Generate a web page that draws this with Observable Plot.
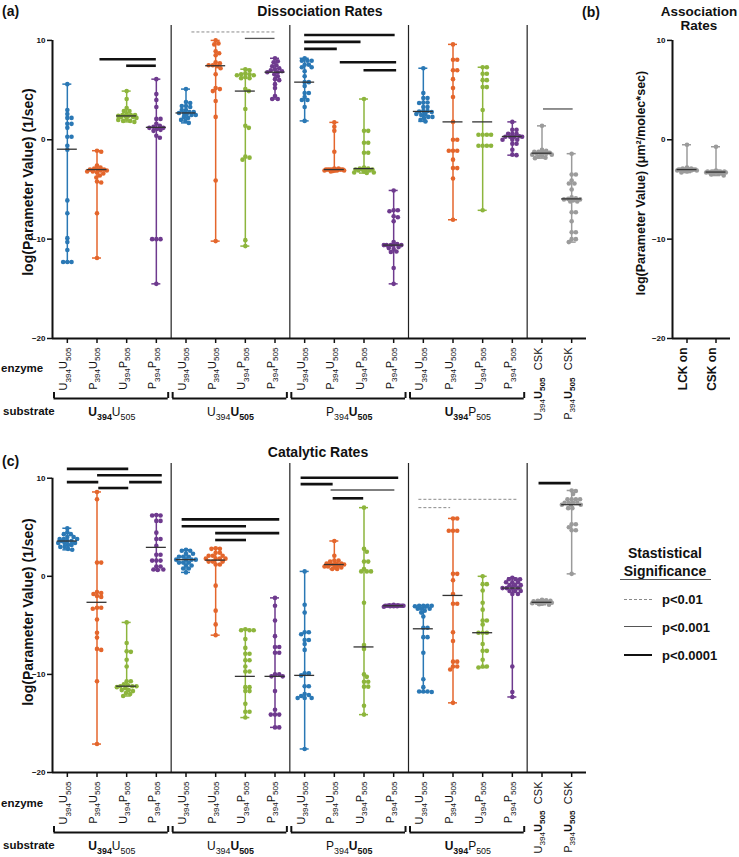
<!DOCTYPE html>
<html><head><meta charset="utf-8">
<script src="https://cdn.jsdelivr.net/npm/d3@7"></script>
<script src="https://cdn.jsdelivr.net/npm/@observablehq/plot@0.6"></script>
<style>
html,body{margin:0;padding:0;background:#fff;}
#fig{position:relative;width:739px;height:857px;overflow:hidden;font-family:"Liberation Sans",Arial,sans-serif;color:#111;background:#fff;}
#fig svg{position:absolute;overflow:visible;}
.t{position:absolute;white-space:nowrap;line-height:1;font-weight:bold;}
</style></head><body><div id="fig"></div><script>
// ---------------- data ----------------
const blue = "#2a78b5", orange = "#e4662c", green = "#8db53c", purple = "#6e3a8e", grey = "#9b9b9b";
const categoryColors = [blue, orange, green, purple, blue, orange, green, purple,
  blue, orange, green, purple, blue, orange, green, purple, grey, grey];
const enzymeLabels = ["U_394_U_505_", "P_394_U_505_", "U_394_P_505_", "P_394_P_505_",
  "U_394_U_505_", "P_394_U_505_", "U_394_P_505_", "P_394_P_505_",
  "U_394_U_505_", "P_394_U_505_", "U_394_P_505_", "P_394_P_505_",
  "U_394_U_505_", "P_394_U_505_", "U_394_P_505_", "P_394_P_505_", "CSK", "CSK"];
const substrateLabels = ["*U_394_*U_505_", "U_394_*U_505_*", "P_394_*U_505_*", "*U_394_*P_505_"];
const groupStart = [0, 4, 8, 12];
const groupEnd = [3, 7, 11, 15];
const cskSubstrateLabels = ["U_394_*U_505_*", "P_394_*U_505_*"];
const cskColumns = [16, 17];
const separators = [3.5, 7.5, 11.5, 15.5];
const yTicks = [10, 0, -10, -20];
const assocLabels = ["LCK on", "CSK on"];

const dissocValues = [
  [5.6, 3.0, 2.6, 2.2, 2.2, 1.6, 1.6, 1.2, 0.3, 0.3, -0.6, -1.0, -6.1, -7.4, -9.9, -10.3, -11.1, -12.3, -12.3, -12.3],
  [-1.1, -1.2, -2.6, -2.8, -2.9, -3.0, -3.0, -3.0, -3.1, -3.1, -3.2, -3.2, -3.3, -3.4, -3.6, -3.8, -4.2, -4.3, -7.4, -11.9],
  [4.9, 4.1, 3.2, 2.9, 2.9, 2.6, 2.5, 2.5, 2.5, 2.4, 2.4, 2.4, 2.3, 2.3, 2.2, 2.1, 2.0, 1.9, 1.9, 1.8],
  [6.1, 4.6, 4.0, 3.3, 2.1, 2.1, 1.6, 1.4, 1.3, 1.2, 1.2, 1.1, 1.0, 0.9, 0.4, 0.2, -10.0, -10.0, -10.0, -14.5],
  [5.1, 3.8, 3.7, 3.4, 3.4, 3.3, 3.0, 3.0, 2.8, 2.8, 2.7, 2.7, 2.6, 2.5, 2.5, 2.3, 2.2, 2.0, 1.9, 1.7],
  [10.0, 9.7, 9.6, 8.9, 8.7, 8.5, 7.8, 7.7, 7.5, 7.5, 7.4, 7.2, 6.6, 5.2, 5.1, 4.9, 3.9, 2.3, -4.1, -10.2],
  [7.1, 7.0, 6.7, 6.6, 6.6, 6.5, 6.5, 6.3, 6.2, 6.2, 5.1, 4.9, 3.1, 1.4, 1.2, -1.7, -1.8, -2.0, -10.1, -10.7],
  [8.2, 7.9, 7.8, 7.5, 7.4, 7.2, 7.1, 7.0, 6.9, 6.8, 6.8, 6.6, 6.4, 6.1, 6.0, 5.6, 5.2, 4.4, 4.1, 4.1],
  [8.2, 7.95, 7.95, 7.95, 7.55, 7.55, 7.3, 7.3, 6.9, 6.4, 5.8, 5.8, 5.4, 4.7, 4.7, 4.3, 4.0, 4.0, 3.3, 1.9],
  [1.75, 1.3, 0.9, -1.2, -2.9, -2.9, -3.0, -3.0, -3.0, -3.0, -3.0, -3.0, -3.0, -3.05, -3.05, -3.1, -3.1, -3.1, -3.15, -3.2],
  [4.1, 0.9, 0.9, -0.3, -0.3, -1.3, -1.3, -2.8, -2.9, -2.9, -3.0, -3.0, -3.0, -3.0, -3.1, -3.1, -3.2, -3.3, -3.3, -3.35],
  [-5.1, -7.1, -7.1, -7.2, -7.7, -7.8, -8.2, -10.3, -10.5, -10.6, -10.6, -10.6, -10.6, -10.6, -10.8, -10.9, -11.0, -11.25, -11.3, -12.9, -14.5],
  [7.2, 4.7, 4.2, 4.2, 3.75, 3.75, 3.7, 3.3, 3.3, 2.9, 2.9, 2.85, 2.8, 2.6, 2.6, 2.5, 2.3, 2.3, 2.2, 2.0, 1.85],
  [9.6, 8.05, 8.05, 7.0, 7.0, 6.1, 5.2, 4.3, 1.8, 0.0, 0.0, -1.1, -1.1, -1.1, -2.0, -2.85, -2.85, -3.9, -8.05],
  [7.3, 7.3, 6.65, 6.65, 6.0, 6.0, 5.3, 5.3, 3.0, 0.5, 0.5, 0.5, 0.5, -0.6, -0.6, -0.6, -0.6, -7.1],
  [1.8, 1.0, 1.0, 0.6, 0.6, 0.6, 0.35, 0.3, 0.3, 0.3, 0.3, 0.0, 0.0, 0.0, -0.4, -0.4, -1.0, -1.5, -1.55],
  [1.4, -1.0, -1.1, -1.2, -1.2, -1.3, -1.3, -1.35, -1.4, -1.4, -1.5, -1.5, -1.6, -1.7, -1.8, -1.85],
  [-1.4, -3.5, -3.5, -4.1, -4.4, -4.4, -5.0, -5.8, -5.9, -5.95, -6.0, -6.0, -6.1, -6.2, -6.2, -7.3, -7.3, -8.2, -9.3, -9.3, -10.0, -10.0, -10.3]
];
const dissocMedians = [-0.95, -3.0, 2.4, 1.25, 2.7, 7.45, 4.9, 6.8, 5.8, -3.0, -2.9, -10.6, 2.85, 1.8, 1.8, 0.33, -1.35, -5.95];
const dissocSig = [
  {x1: 1.1, x2: 3.0, y: 8.1, p: 3}, {x1: 2.0, x2: 3.0, y: 7.45, p: 3},
  {x1: 4.2, x2: 7.0, y: 10.85, p: 1}, {x1: 6.0, x2: 7.0, y: 10.2, p: 2},
  {x1: 8.0, x2: 11.05, y: 10.55, p: 3}, {x1: 8.0, x2: 9.9, y: 9.85, p: 3},
  {x1: 8.0, x2: 9.1, y: 9.15, p: 3}, {x1: 9.2, x2: 11.1, y: 7.8, p: 3},
  {x1: 10.0, x2: 11.1, y: 7.0, p: 3}, {x1: 16.05, x2: 17.05, y: 3.1, p: 2}
];

const assocValues = [
  [-0.5, -2.8, -2.9, -2.9, -3.0, -3.0, -3.0, -3.0, -3.0, -3.0, -3.0, -3.0, -3.1, -3.1, -3.1, -3.1, -3.2, -3.3],
  [-0.7, -3.1, -3.2, -3.2, -3.2, -3.2, -3.2, -3.2, -3.3, -3.3, -3.3, -3.3, -3.3, -3.4, -3.4, -3.4, -3.5, -3.6]
];
const assocMedians = [-3.0, -3.25];

const catalyticValues = [
  [4.9, 4.5, 4.3, 4.3, 4.0, 4.0, 3.8, 3.8, 3.8, 3.6, 3.6, 3.6, 3.4, 3.4, 3.4, 3.2, 3.2, 3.0, 3.0, 2.8, 2.7],
  [8.6, 7.85, 1.4, 1.4, -1.6, -1.7, -1.8, -2.0, -2.1, -3.2, -3.2, -3.3, -4.4, -5.75, -6.25, -7.4, -7.5, -10.7, -17.1],
  [-4.7, -6.8, -7.65, -7.7, -8.5, -9.2, -10.7, -10.7, -11.0, -11.1, -11.2, -11.2, -11.2, -11.3, -11.4, -11.6, -11.6, -11.7, -11.9, -12.0, -12.2],
  [6.25, 6.2, 6.2, 5.65, 5.65, 4.45, 3.8, 3.8, 3.1, 2.2, 2.2, 1.6, 1.6, 1.6, 1.0, 1.0, 0.7, 0.7, 0.65],
  [2.7, 2.6, 2.6, 2.3, 2.3, 2.0, 2.0, 2.0, 1.7, 1.7, 1.7, 1.7, 1.4, 1.4, 1.4, 1.1, 1.1, 0.8, 0.8, 0.4],
  [2.85, 2.8, 2.8, 2.4, 2.4, 2.1, 2.1, 2.1, 1.8, 1.8, 1.8, 1.8, 1.5, 1.5, 1.5, 1.2, 1.2, -0.95, -3.5, -4.9, -6.0],
  [-5.4, -5.5, -5.5, -5.5, -6.4, -7.3, -7.9, -7.9, -8.55, -8.55, -9.2, -9.7, -9.7, -11.3, -11.3, -11.7, -11.7, -13.0, -13.8, -13.8, -14.4],
  [-2.2, -3.0, -4.5, -6.1, -7.2, -7.2, -7.8, -7.8, -10.0, -10.0, -10.2, -10.2, -11.7, -13.6, -14.1, -14.1, -14.1, -15.4, -15.4],
  [0.5, -2.9, -3.7, -5.7, -5.7, -5.9, -6.5, -6.5, -6.9, -7.5, -9.9, -9.9, -10.1, -11.2, -11.2, -12.0, -12.1, -12.2, -12.4, -12.4, -12.4, -17.6],
  [3.6, 2.1, 1.6, 1.6, 1.5, 1.3, 1.3, 1.3, 1.2, 1.2, 1.2, 1.1, 1.0, 1.0, 1.0, 0.9, 0.75, 0.75],
  [7.0, 2.8, 2.5, 1.5, 1.5, 0.75, 0.5, 0.5, 0.5, -2.7, -7.0, -7.4, -10.0, -10.25, -10.75, -10.75, -11.25, -11.25, -13.2, -14.1],
  [-2.9, -2.95, -2.95, -3.0, -3.0, -3.0, -3.0, -3.0, -3.0, -3.0, -3.05, -3.05, -3.05, -3.1],
  [-3.0, -3.0, -3.0, -3.0, -3.05, -3.1, -3.3, -3.3, -3.3, -3.5, -3.7, -4.1, -5.25, -5.25, -6.2, -6.2, -7.8, -10.5, -11.3, -11.75, -11.75, -11.75, -11.8],
  [5.9, 5.9, 4.65, 4.65, 4.65, 0.25, 0.25, -0.4, -1.8, -2.8, -2.8, -5.7, -6.6, -8.7, -8.7, -9.2, -9.2, -9.5, -12.9],
  [0.0, -0.8, -0.8, -1.45, -2.7, -3.4, -4.5, -4.5, -4.9, -5.75, -5.75, -5.75, -6.9, -7.6, -7.6, -8.5, -9.2, -9.2, -9.3],
  [-0.15, -0.3, -0.3, -0.3, -0.6, -0.6, -0.6, -0.9, -0.9, -0.9, -1.2, -1.2, -1.2, -1.2, -1.5, -1.5, -1.5, -1.8, -1.8, -9.2, -11.8, -12.3],
  [-2.4, -2.45, -2.5, -2.5, -2.55, -2.6, -2.6, -2.65, -2.65, -2.7, -2.7, -2.75, -2.8, -2.85, -2.9],
  [8.75, 8.7, 8.4, 7.85, 7.85, 7.85, 7.85, 7.5, 7.5, 7.5, 7.5, 7.3, 7.3, 7.3, 6.95, 6.95, 5.3, 5.3, 5.0, 4.7, 4.7, 0.25]
];
const catalyticMedians = [3.6, -2.65, -11.2, 2.95, 1.7, 1.65, -10.2, -10.2, -10.1, 1.2, -7.2, -3.0, -5.35, -1.95, -5.75, -1.2, -2.65, 7.3];
const catalyticSig = [
  {x1: 0, x2: 2.07, y: 10.95, p: 3}, {x1: 1.02, x2: 3.2, y: 10.3, p: 3},
  {x1: 0, x2: 1.06, y: 9.6, p: 3}, {x1: 2.1, x2: 3.2, y: 9.6, p: 3},
  {x1: 1.06, x2: 2.07, y: 9.0, p: 3},
  {x1: 3.87, x2: 7.16, y: 5.8, p: 3}, {x1: 3.87, x2: 6.04, y: 5.1, p: 3},
  {x1: 5.0, x2: 7.16, y: 4.4, p: 3}, {x1: 5.0, x2: 6.04, y: 3.7, p: 3},
  {x1: 7.88, x2: 11.17, y: 10.05, p: 3}, {x1: 7.88, x2: 8.96, y: 9.4, p: 3},
  {x1: 8.89, x2: 11.04, y: 8.8, p: 2}, {x1: 8.96, x2: 9.99, y: 7.95, p: 3},
  {x1: 11.85, x2: 15.17, y: 7.85, p: 1}, {x1: 11.85, x2: 12.92, y: 7.0, p: 1},
  {x1: 15.9, x2: 16.98, y: 9.5, p: 3}
];

// ---------------- helpers ----------------
const fig = document.getElementById("fig");
const sigStyle = {1: {stroke: "#8a8a8a", strokeWidth: 1, strokeDasharray: "3,2"},
                  2: {stroke: "#555", strokeWidth: 1.3},
                  3: {stroke: "#111", strokeWidth: 2.6}};

// compact beeswarm: dots may overlap once the band of +-maxOff px is full
function swarmOffsets(vals, pxY, pxX, r, maxOff) {
  const d = 2 * r * 0.8, step = 0.7;
  const order = d3.range(vals.length).sort((a, b) => d3.descending(vals[a], vals[b]));
  const placed = [], off = new Array(vals.length).fill(0);
  const nMax = Math.floor(maxOff / step) * 2;
  for (const k of order) {
    const yp = vals[k] * pxY;
    let best = 0, bestScore = -1, chosen = null;
    for (let n = 0; n <= nMax; n++) {
      const c = n === 0 ? 0 : (n % 2 ? 1 : -1) * Math.ceil(n / 2) * step;
      let m = Infinity;
      for (const p of placed) { const dx = p.x - c, dy = p.y - yp; m = Math.min(m, Math.hypot(dx, dy)); }
      if (m >= d) { chosen = c; break; }
      if (m > bestScore + 0.3) { bestScore = m; best = c; }
    }
    const c = chosen === null ? best : chosen;
    placed.push({x: c, y: yp});
    off[k] = c / pxX;
  }
  return off;
}

function richify(svg) {
  svg.querySelectorAll("text").forEach(el => {
    if (el.querySelector("tspan")) return;
    const s = el.textContent;
    if (!/[_*]/.test(s)) return;
    const fs = parseFloat(getComputedStyle(el).fontSize) || 11;
    const shift = +(fs * 0.3).toFixed(2);
    el.textContent = "";
    let bold = false, sub = false, buf = "", cur = 0;
    const flush = () => {
      if (!buf) return;
      const ts = document.createElementNS("http://www.w3.org/2000/svg", "tspan");
      const target = sub ? shift : 0;
      if (target !== cur) { ts.setAttribute("dy", (target - cur).toFixed(2)); cur = target; }
      if (sub) ts.setAttribute("font-size", (fs * 0.74).toFixed(1));
      if (bold) ts.setAttribute("font-weight", "bold");
      ts.textContent = buf; el.appendChild(ts); buf = "";
    };
    for (const ch of s) {
      if (ch === "*") { flush(); bold = !bold; }
      else if (ch === "_") { flush(); sub = !sub; }
      else buf += ch;
    }
    flush();
  });
}

function panel(o) {
  const yMin = -20, yMax = 11.5, mt = 25;
  const n = o.values.length;
  const xDomain = [-0.5, n - 0.5];
  const pxY = (o.height - o.mb - mt) / (yMax - yMin);
  const pxX = (o.width - o.ml - o.mr) / (xDomain[1] - xDomain[0]);
  const r = 2.3;
  const pts = [], ranges = [], caps = [], meds = [];
  o.values.forEach((vals, i) => {
    const off = swarmOffsets(vals, pxY, pxX, r, 10);
    const c = o.colors[i];
    vals.forEach((v, j) => pts.push({x: i + off[j], v, c}));
    const [lo, hi] = d3.extent(vals);
    ranges.push({i, lo, hi, c});
    caps.push({i, v: lo, c}, {i, v: hi, c});
    meds.push({i, m: o.medians[i]});
  });
  const capW = 4.5 / pxX, medW = 10 / pxX;
  const marks = [
    Plot.ruleX(o.seps || [], {stroke: "#222", strokeWidth: 1.2}),
    Plot.ruleY([yMin], {stroke: "#111", strokeWidth: 2}),
    Plot.ruleX([xDomain[0]], {y1: yTicks[yTicks.length - 1], y2: yTicks[0], stroke: "#111", strokeWidth: 2}),
    Plot.axisY({ticks: yTicks, tickSize: 5, tickPadding: 2, fontSize: 8, fontWeight: "bold", label: null, strokeWidth: 1.5, stroke: "#111"}),
    Plot.axisX({ticks: d3.range(n), tickSize: 5, tickFormat: () => "", label: null, strokeWidth: 1.5, stroke: "#111"}),
    Plot.ruleX(ranges, {x: "i", y1: "lo", y2: "hi", stroke: "c", strokeWidth: 1.5}),
    Plot.ruleY(caps, {x1: d => d.i - capW, x2: d => d.i + capW, y: "v", stroke: "c", strokeWidth: 1.5}),
    Plot.dot(pts, {x: "x", y: "v", r, fill: "c", stroke: null}),
    Plot.ruleY(meds, {x1: d => d.i - medW, x2: d => d.i + medW, y: "m", stroke: "#333", strokeWidth: 1.3})
  ];
  for (const p of [1, 2, 3]) {
    const rows = (o.sig || []).filter(d => d.p === p);
    marks.push(Plot.ruleY(rows, {x1: "x1", x2: "x2", y: "y", ...sigStyle[p]}));
  }
  marks.push(Plot.text(o.enzymes.map((t, i) => ({i, t})), {
    x: "i", text: "t", frameAnchor: "bottom", dy: 9, rotate: -90, textAnchor: "end",
    fontSize: o.enzFont, fontWeight: o.enzWeight, fill: "#111"}));
  if (o.groups) {
    const groups = o.groups.map((label, g) => ({label, from: groupStart[g], to: groupEnd[g]}));
    const ends = groups.flatMap(g => [{x: g.from - 0.45}, {x: g.to + 0.4}]);
    marks.push(
      Plot.ruleY(groups, {x1: d => d.from - 0.45, x2: d => d.to + 0.4, y: () => yMin, dy: 60, stroke: "#111", strokeWidth: 2}),
      Plot.ruleX(ends, {x: "x", y1: () => yMin, y2: () => yMin + 6 / pxY, dy: 60, stroke: "#111", strokeWidth: 2}),
      Plot.text(groups, {x: d => (d.from + d.to) / 2, y: () => yMin, dy: 74, text: "label", fontSize: 12, fill: "#111"}),
      Plot.text(cskSubstrateLabels.map((t, k) => ({i: cskColumns[k], t})), {
        x: "i", text: "t", frameAnchor: "bottom", dy: o.cskDy, rotate: -90, textAnchor: "end", fontSize: 11, fill: "#111"})
    );
  }
  const svg = Plot.plot({
    width: o.width, height: o.height, marginLeft: o.ml, marginRight: o.mr, marginTop: mt, marginBottom: o.mb,
    x: {domain: xDomain, label: null},
    y: {domain: [yMin, yMax], label: null},
    color: {type: "identity"},
    style: {background: "transparent", fontFamily: "'Liberation Sans', Arial, sans-serif", fontSize: "11px", overflow: "visible", color: "#111"},
    marks
  });
  svg.style.left = o.left + "px";
  svg.style.top = o.top + "px";
  svg.style.position = "absolute";
  svg.style.maxWidth = "none";
  fig.appendChild(svg);
  richify(svg);
}

function label(txt, o) {
  const d = document.createElement("div");
  d.className = "t";
  d.textContent = txt;
  d.style.fontSize = (o.size || 14) + "px";
  if (o.cx !== undefined) {
    d.style.left = o.cx + "px"; d.style.top = o.cy + "px";
    d.style.transform = "translate(-50%,-50%)" + (o.rot ? " rotate(-90deg)" : "");
  } else {
    d.style.left = o.left + "px"; d.style.top = o.cy + "px";
    d.style.transform = "translateY(-50%)";
  }
  fig.appendChild(d);
  return d;
}

// ---------------- panels ----------------
panel({values: dissocValues, medians: dissocMedians, colors: categoryColors, sig: dissocSig, seps: separators,
  enzymes: enzymeLabels, enzFont: 11, enzWeight: "normal", groups: substrateLabels, cskDy: 39,
  width: 600, height: 433, ml: 52, mr: 14, mb: 95, left: 0, top: 0});
panel({values: assocValues, medians: assocMedians, colors: [grey, grey], sig: [], seps: [],
  enzymes: assocLabels, enzFont: 12, enzWeight: "bold", groups: null,
  width: 139, height: 433, ml: 72, mr: 9, mb: 95, left: 600, top: 0});
panel({values: catalyticValues, medians: catalyticMedians, colors: categoryColors, sig: catalyticSig, seps: separators,
  enzymes: enzymeLabels, enzFont: 11, enzWeight: "normal", groups: substrateLabels, cskDy: 38,
  width: 600, height: 419, ml: 52, mr: 14, mb: 85, left: 0, top: 438});

// ---------------- titles & labels ----------------
label("(a)", {left: 2, cy: 11, size: 14});
label("Dissociation Rates", {cx: 320, cy: 11, size: 14});
label("(b)", {left: 582, cy: 12, size: 14});
label("Association", {cx: 699, cy: 11.5, size: 13.5});
label("Rates", {cx: 699, cy: 26, size: 13.5});
label("(c)", {left: 2, cy: 461, size: 14});
label("Catalytic Rates", {cx: 318, cy: 452, size: 14});
label("log(Parameter Value) (1/sec)", {cx: 28, cy: 182, size: 14, rot: true});
label("log(Parameter Value) (1/sec)", {cx: 28, cy: 612, size: 14, rot: true});
label("log(Parameter Value) (μm²/molec*sec)", {cx: 641, cy: 183, size: 12.5, rot: true});
label("enzyme", {left: 1, cy: 369, size: 11.5});
label("substrate", {left: 3, cy: 412, size: 11.5});
label("enzyme", {left: 1, cy: 804, size: 11.5});
label("substrate", {left: 3, cy: 846, size: 11.5});

// legend
label("Stastistical", {cx: 665, cy: 553, size: 14});
label("Significance", {cx: 665, cy: 571, size: 14});
const ul = document.createElement("div");
Object.assign(ul.style, {position: "absolute", left: "620px", top: "579px", width: "91px", borderTop: "1px solid #555"});
fig.appendChild(ul);
const legendRows = [{t: "p<0.01", p: 1, y: 599}, {t: "p<0.001", p: 2, y: 627}, {t: "p<0.0001", p: 3, y: 655}];
legendRows.forEach(r => {
  const s = sigStyle[r.p];
  const ln = document.createElement("div");
  Object.assign(ln.style, {position: "absolute", left: "624px", width: "28px",
    top: (r.y - s.strokeWidth / 2) + "px",
    borderTop: `${s.strokeWidth}px ${s.strokeDasharray ? "dashed" : "solid"} ${s.stroke}`});
  fig.appendChild(ln);
  label(r.t, {left: 662, cy: r.y, size: 13});
});
</script></body></html>
